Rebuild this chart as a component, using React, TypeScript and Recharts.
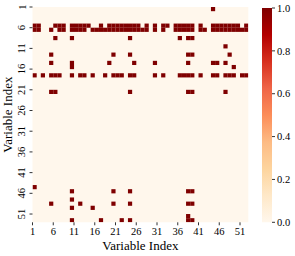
import React from 'react';
import { ComposedChart, XAxis, YAxis, Scatter, ReferenceArea } from 'recharts';

// ---- data ----
const N_VARS = 52;
const axisTicks = [1, 6, 11, 16, 21, 26, 31, 36, 41, 46, 51];
const colorbarTicks = [0, 0.2, 0.4, 0.6, 0.8, 1.0];

// rows (Variable Index) containing value 1.0 and the columns that are 1.0 in each
const activeRows = [1, 5, 6, 8, 10, 12, 14, 15, 17, 21, 44, 45, 47, 48, 49, 51, 52];
const activeCols = [
  [44],
  [1, 2, 6, 7, 8, 10, 11, 12, 13, 14, 17, 19, 20, 21, 22, 23, 24, 25, 26, 28, 30, 32, 33, 35, 36, 37, 38, 39, 41, 44, 45, 46, 47, 48, 49, 50, 52],
  [1, 2, 5, 7, 8, 10, 11, 12, 13, 15, 16, 17, 18, 19, 20, 21, 22, 23, 24, 25, 26, 27, 28, 30, 32, 35, 36, 37, 38, 39, 41, 42, 44, 45, 46, 47, 48, 49, 50, 51, 52],
  [6, 10, 24, 36, 38, 39],
  [47],
  [5, 20, 24, 38, 39, 48],
  [5, 10, 19, 25, 30, 38, 44, 45, 47],
  [10, 49],
  [1, 3, 5, 6, 7, 10, 12, 13, 15, 18, 20, 21, 22, 24, 25, 30, 32, 36, 37, 38, 39, 41, 44, 45, 47, 48, 49, 51, 52],
  [5, 6, 24, 38, 39, 47],
  [1],
  [10, 20, 24, 38, 39],
  [10],
  [5, 12, 20, 24, 38, 39],
  [10, 15],
  [38],
  [10, 17, 22, 24, 38, 39],
];

const cells: { x: number; y: number; v: number }[] = [];
activeRows.forEach((r, i) => {
  activeCols[i].forEach((c) => cells.push({ x: c, y: r, v: 1 }));
});

const colorbarRange = [
  { x: 0, y: 0 },
  { x: 1, y: 1 },
];

// OrRd colormap
const orrd = ['#fff7ec', '#fee8c8', '#fdd49e', '#fdbb84', '#fc8d59', '#ef6548', '#d7301f', '#b30000', '#7f0000'];

const FONT = '"Liberation Serif", "Times New Roman", serif';

const YTick = (props: any) => {
  const { x, y, payload } = props;
  const bx = x - 2;
  return (
    <text
      x={bx}
      y={y}
      transform={`rotate(-90 ${bx} ${y})`}
      textAnchor="middle"
      fontSize={10.5}
      fontFamily={FONT}
      fill="#000"
    >
      {payload.value}
    </text>
  );
};

export default function App() {
  const plotLeft = 32.5;
  const plotRight = 248.3;
  const plotTop = 7;
  const plotBottom = 222.3;
  const cellW = (plotRight - plotLeft) / N_VARS;
  const cellH = (plotBottom - plotTop) / N_VARS;

  const CellShape = (p: any) => (
    <rect x={p.cx} y={p.cy} width={cellW + 0.05} height={cellH + 0.05} fill="#7f0000" />
  );

  return (
    <div style={{ position: 'absolute', left: 0, top: 0, width: 295, height: 256, background: '#fff' }}>
      <div style={{ position: 'absolute', left: 0, top: 0 }}>
        <ComposedChart
          width={295}
          height={256}
          margin={{ top: plotTop, right: 295 - plotRight, bottom: 0, left: 0 }}
        >
          <XAxis
            type="number"
            dataKey="x"
            domain={[1, N_VARS + 1]}
            ticks={axisTicks}
            interval={0}
            allowDataOverflow
            axisLine={false}
            tickSize={3}
            tickLine={{ stroke: '#333' }}
            height={256 - plotBottom}
            tick={{ fontSize: 10.5, fill: '#000', fontFamily: FONT }}
            label={{
              value: 'Variable Index',
              position: 'insideBottom',
              offset: 6,
              style: { fontSize: 13, fill: '#000', fontFamily: FONT },
            }}
          />
          <YAxis
            type="number"
            dataKey="y"
            domain={[1, N_VARS + 1]}
            reversed
            ticks={axisTicks}
            interval={0}
            allowDataOverflow
            axisLine={false}
            tickSize={3}
            tickLine={{ stroke: '#333' }}
            width={plotLeft}
            tick={<YTick />}
            label={{
              value: 'Variable Index',
              angle: -90,
              position: 'insideLeft',
              offset: 7,
              style: { fontSize: 13, fill: '#000', fontFamily: FONT, textAnchor: 'middle' },
            }}
          />
          <ReferenceArea x1={1} x2={N_VARS + 1} y1={1} y2={N_VARS + 1} fill={orrd[0]} fillOpacity={1} stroke="none" />
          <Scatter data={cells} dataKey="y" isAnimationActive={false} shape={CellShape} />
        </ComposedChart>
      </div>
      <div style={{ position: 'absolute', left: 0, top: 0 }}>
        <ComposedChart
          width={295}
          height={256}
          margin={{ top: 8, right: 0, bottom: 256 - plotBottom, left: 262 }}
        >
          <defs>
            <linearGradient id="orrdGrad" x1="0" y1="1" x2="0" y2="0">
              {orrd.map((c, i) => (
                <stop key={i} offset={`${(i / (orrd.length - 1)) * 100}%`} stopColor={c} />
              ))}
            </linearGradient>
          </defs>
          <XAxis type="number" dataKey="x" domain={[0, 1]} hide />
          <YAxis
            orientation="right"
            type="number"
            dataKey="y"
            domain={[0, 1]}
            ticks={colorbarTicks}
            interval={0}
            tickFormatter={(v: number) => v.toFixed(1)}
            width={23}
            axisLine={false}
            tickSize={3}
            tickLine={{ stroke: '#333' }}
            tick={{ fontSize: 10.5, fill: '#000', fontFamily: FONT }}
          />
          <ReferenceArea x1={0} x2={1} y1={0} y2={1} fill="url(#orrdGrad)" fillOpacity={1} stroke="none" />
          <Scatter data={colorbarRange} dataKey="y" isAnimationActive={false} shape={() => <g />} />
        </ComposedChart>
      </div>
    </div>
  );
}
